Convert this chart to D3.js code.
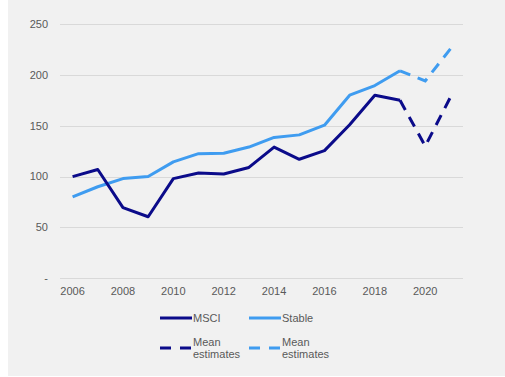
<!DOCTYPE html>
<html>
<head>
<meta charset="utf-8">
<script src="https://cdn.jsdelivr.net/npm/d3@7"></script>
<style>
  body { margin: 0; background: #fff; }
  text { font-family: "Liberation Sans", Arial, sans-serif; }
</style>
</head>
<body>
<div id="chart"></div>
<script>
// data
const years = [2006, 2007, 2008, 2009, 2010, 2011, 2012, 2013, 2014, 2015, 2016, 2017, 2018, 2019, 2020, 2021];
const msci = [100, 107, 69.5, 60.5, 98, 103.5, 102.5, 109, 129, 117, 125.5, 151, 180, 175, 130, 178];
const stable = [80, 90, 98, 100, 114.5, 122.5, 123, 129, 138.5, 141, 150.5, 180, 189.5, 204, 194, 225.5];
const lastActual = 2019;
const yTicks = [0, 50, 100, 150, 200, 250];
const xTicks = [2006, 2008, 2010, 2012, 2014, 2016, 2018, 2020];

// config
const width = 505;
const height = 377;
const navy = "#0b0b8a";
const blue = "#3f9cf0";
const textColor = "#595959";

const svg = d3.select("#chart")
  .append("svg")
  .attr("width", width)
  .attr("height", height);

svg.append("rect")
  .attr("x", 8).attr("y", 0)
  .attr("width", width - 8).attr("height", 376)
  .attr("fill", "#f1f1f1");

const x = d3.scalePoint()
  .domain(years)
  .range([60, 463])
  .padding(0.5);

const y = d3.scaleLinear()
  .domain([0, 250])
  .range([278.3, 24]);

// grid
svg.append("g")
  .selectAll("line")
  .data(yTicks)
  .enter().append("line")
  .attr("x1", 60).attr("x2", 463)
  .attr("y1", d => Math.round(y(d)) + 0.5)
  .attr("y2", d => Math.round(y(d)) + 0.5)
  .attr("stroke", "#d9d9d9")
  .attr("stroke-width", 1);

// y labels
svg.append("g")
  .selectAll("text")
  .data(yTicks)
  .enter().append("text")
  .attr("x", 48)
  .attr("y", d => y(d))
  .attr("dy", "0.35em")
  .attr("text-anchor", "end")
  .attr("font-size", 11)
  .attr("fill", textColor)
  .text(d => d === 0 ? "-" : d);

// x labels
svg.append("g")
  .selectAll("text")
  .data(xTicks)
  .enter().append("text")
  .attr("x", d => x(d))
  .attr("y", 291)
  .attr("dy", "0.35em")
  .attr("text-anchor", "middle")
  .attr("font-size", 11)
  .attr("fill", textColor)
  .text(d => d);

const line = d3.line()
  .x(d => x(d.year))
  .y(d => y(d.value));

const drawSeries = (values, color) => {
  const pts = years.map((yr, i) => ({year: yr, value: values[i]}));
  const actual = pts.filter(d => d.year <= lastActual);
  const est = pts.filter(d => d.year >= lastActual);
  svg.append("path")
    .datum(actual)
    .attr("d", line)
    .attr("fill", "none")
    .attr("stroke", color)
    .attr("stroke-width", 3)
    .attr("stroke-linejoin", "round");
  svg.append("path")
    .datum(est)
    .attr("d", line)
    .attr("fill", "none")
    .attr("stroke", color)
    .attr("stroke-width", 3)
    .attr("stroke-dasharray", "11,8");
};

drawSeries(stable, blue);
drawSeries(msci, navy);

// legend
const legend = [
  {x: 160, y: 318, color: navy, dash: null, label: ["MSCI"]},
  {x: 249, y: 318, color: blue, dash: null, label: ["Stable"]},
  {x: 160, y: 348, color: navy, dash: "11,9", label: ["Mean", "estimates"]},
  {x: 249, y: 348, color: blue, dash: "11,9", label: ["Mean", "estimates"]}
];

const lg = svg.append("g")
  .selectAll("g")
  .data(legend)
  .enter().append("g")
  .attr("transform", d => `translate(${d.x},${d.y})`);

lg.append("line")
  .attr("x1", 0).attr("x2", 32)
  .attr("y1", 0).attr("y2", 0)
  .attr("stroke", d => d.color)
  .attr("stroke-width", 3)
  .attr("stroke-dasharray", d => d.dash);

lg.each(function(d) {
  const g = d3.select(this);
  const n = d.label.length;
  d.label.forEach((t, i) => {
    g.append("text")
      .attr("x", 33)
      .attr("y", (i - (n - 1) / 2) * 12.6)
      .attr("dy", "0.35em")
      .attr("font-size", 11)
      .attr("fill", textColor)
      .text(t);
  });
});
</script>
</body>
</html>
